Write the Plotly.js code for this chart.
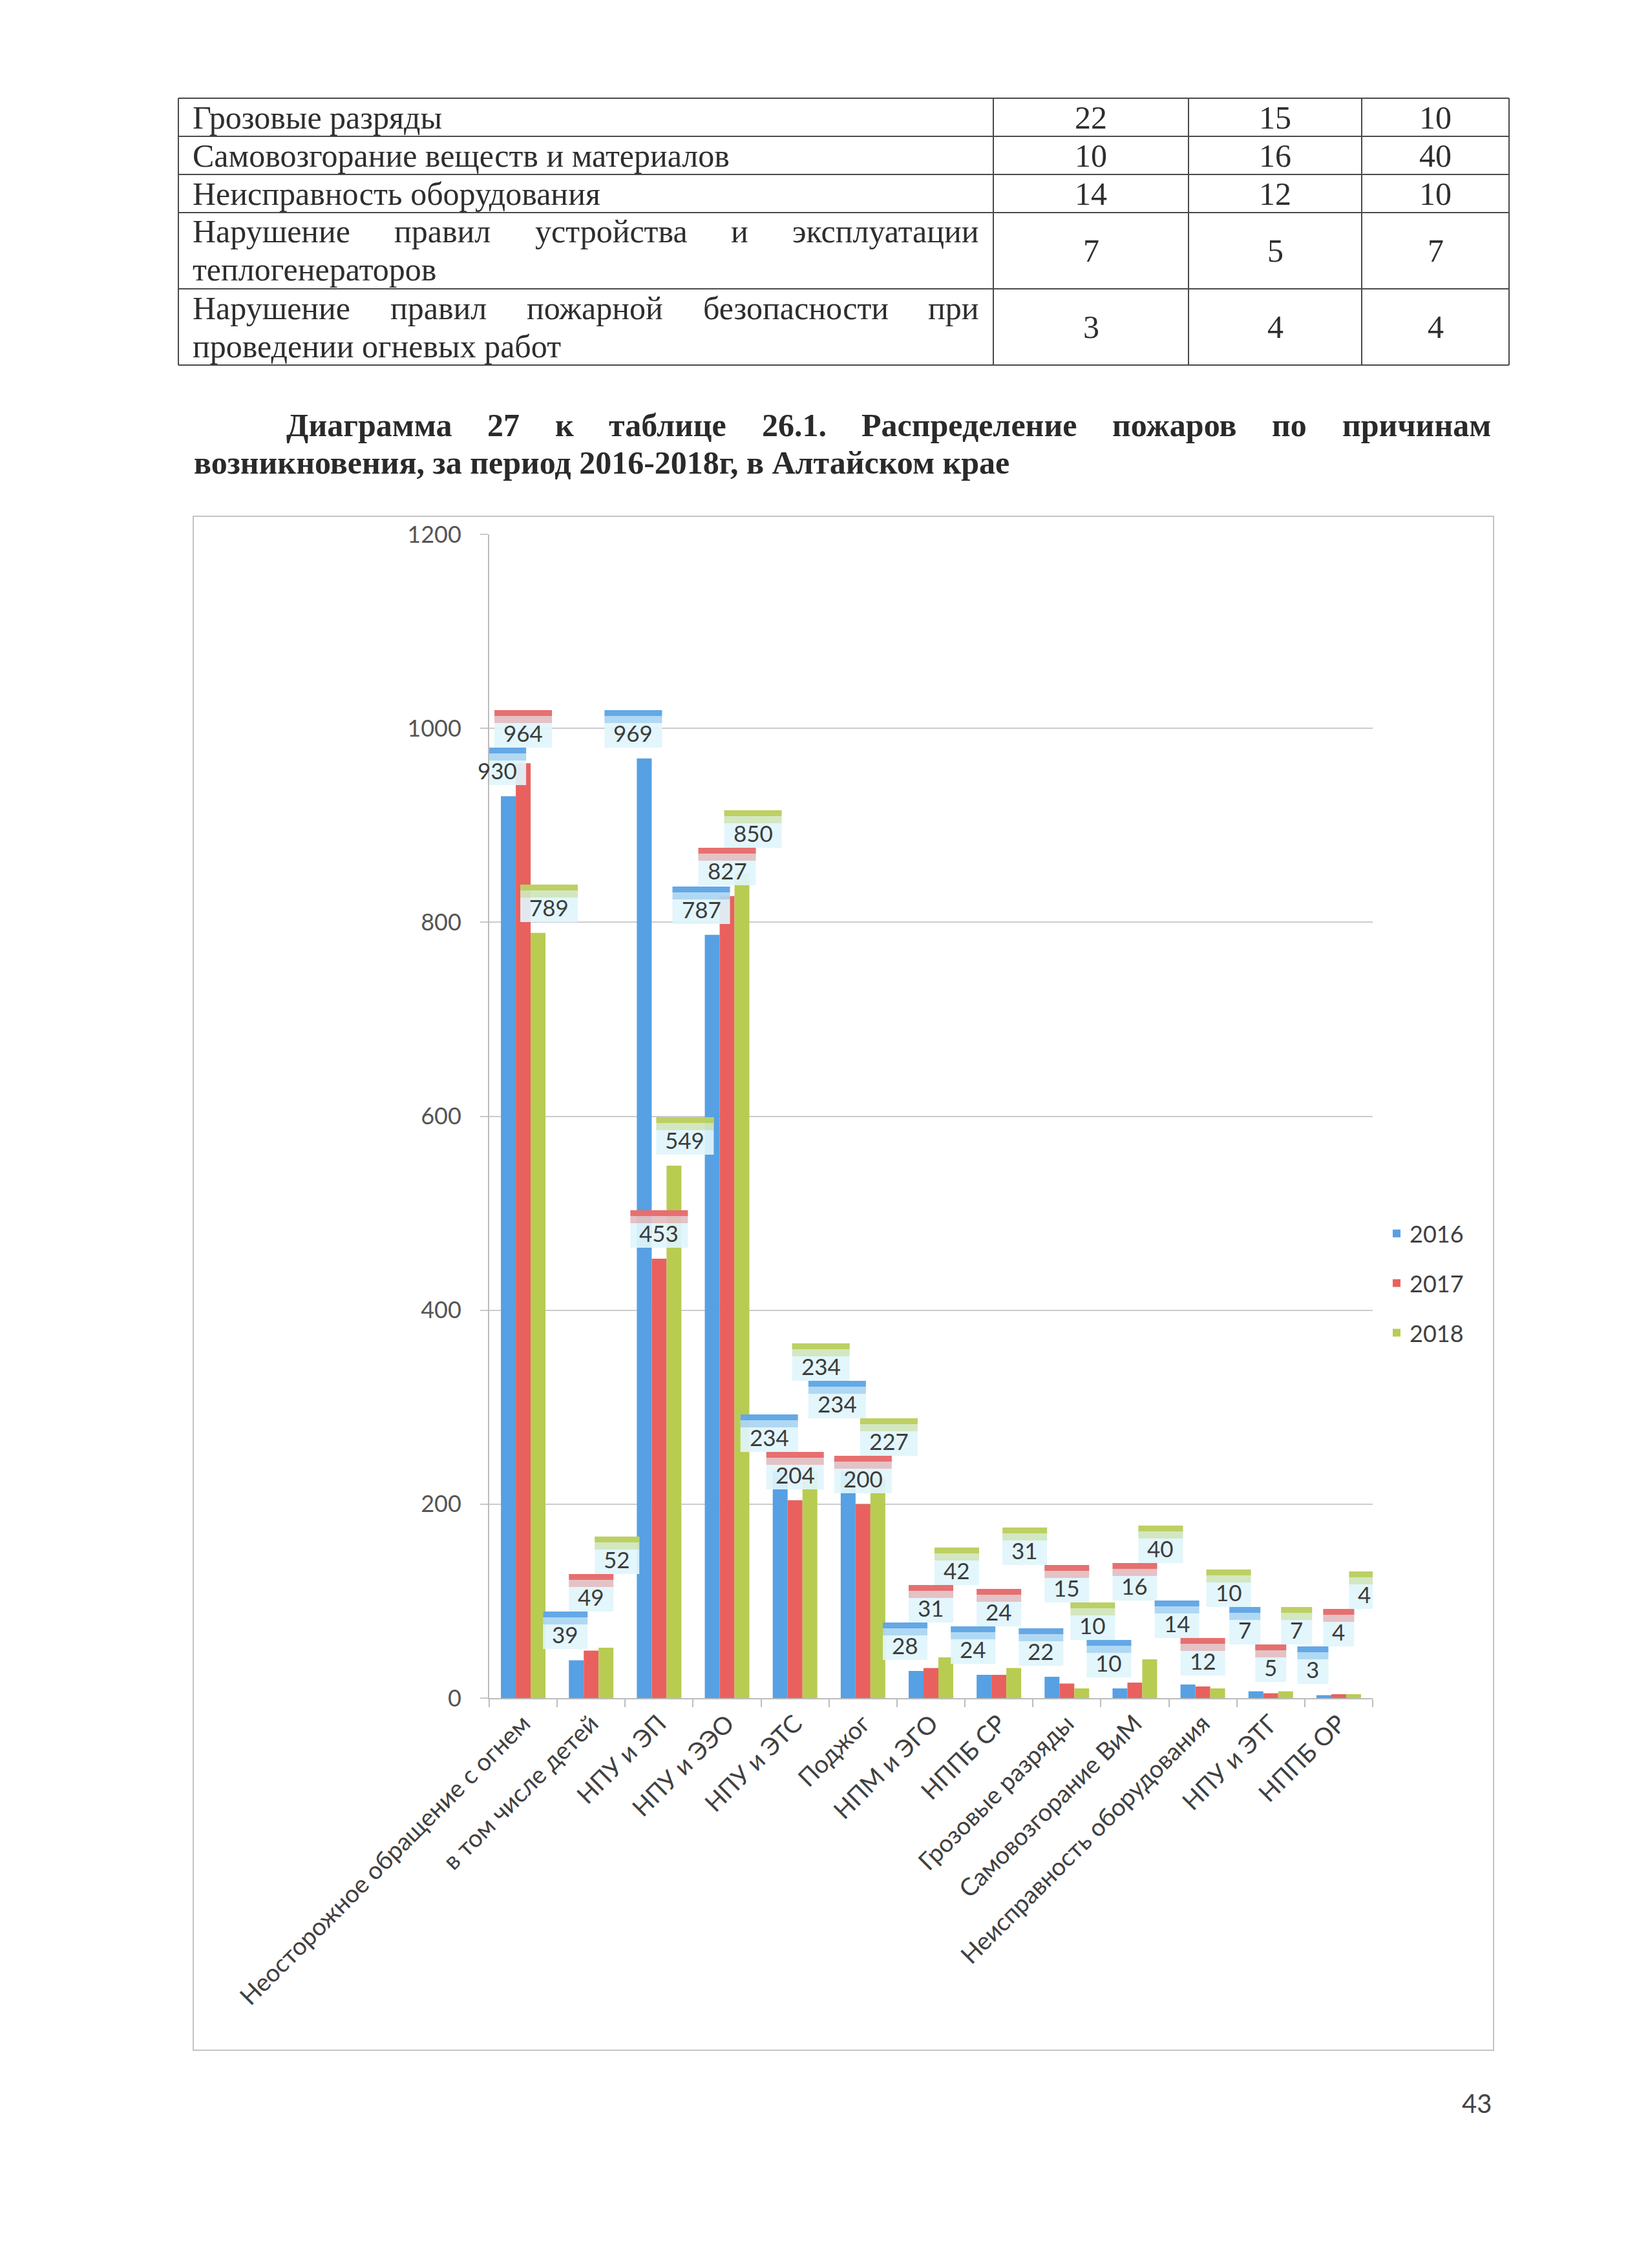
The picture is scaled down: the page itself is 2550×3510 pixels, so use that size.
<!DOCTYPE html>
<html>
<head>
<meta charset="utf-8">
<script src="https://cdn.plot.ly/plotly-3.0.1.min.js"></script>
<style>html,body{margin:0;padding:0;background:#fff;}</style>
</head>
<body>
<div id="chart" style="width:2550px;height:3510px"></div>
<script>
// ---------------- DATA ----------------
const categories = [
  'Неосторожное обращение с огнем',
  'в том числе детей',
  'НПУ и ЭП',
  'НПУ и ЭЭО',
  'НПУ и ЭТС',
  'Поджог',
  'НПМ и ЭГО',
  'НППБ СР',
  'Грозовые разряды',
  'Самовозгорание ВиМ',
  'Неисправность оборудования',
  'НПУ и ЭТГ',
  'НППБ ОР'
];
const values2016 = [930, 39, 969, 787, 234, 234, 28, 24, 22, 10, 14, 7, 3];
const values2017 = [964, 49, 453, 827, 204, 200, 31, 24, 15, 16, 12, 5, 4];
const values2018 = [789, 52, 549, 850, 234, 227, 42, 31, 10, 40, 10, 7, 4];
const seriesNames = ['2016', '2017', '2018'];
const yTicks = [0, 200, 400, 600, 800, 1000, 1200];

const tableCauses = [
  'Грозовые разряды',
  'Самовозгорание веществ и материалов',
  'Неисправность оборудования',
  'Нарушение правил устройства и эксплуатации теплогенераторов',
  'Нарушение правил пожарной безопасности при проведении огневых работ'
];
const table2016 = [22, 10, 14, 7, 3];
const table2017 = [15, 16, 12, 5, 4];
const table2018 = [10, 40, 10, 7, 4];

const titleLine1 = 'Диаграмма 27 к таблице 26.1. Распределение пожаров по причинам';
const titleLine2 = 'возникновения, за период 2016-2018г, в Алтайском крае';
const pageNumber = '43';

// ---------------- LAYOUT CONSTANTS ----------------
const W = 2550, H = 3510;
const X0 = 757, X1 = 2124, Y0 = 827, Y1 = 2628;   // plot area (px)
const YMAX = 1200;
const colors = ['#56a0e3', '#e8615f', '#b8cc52'];
const px = v => v / W;
const py = v => 1 - v / H;

const cvs = document.createElement('canvas');
const ctx = cvs.getContext('2d');
function measure(text, font) { ctx.font = font; return ctx.measureText(text).width; }

const shapes = [];
const annotations = [];

function paperText(text, x, y, xanchor, font) {
  annotations.push({xref: 'paper', yref: 'paper', x: px(x), y: py(y), xanchor: xanchor, yanchor: 'middle',
    text: text, showarrow: false, borderpad: 0, font: font});
}
function placeLine(words, fontObj, cssFont, xL, xR, y, justify) {
  if (!justify) { paperText(words.join(' '), xL, y, 'left', fontObj); return; }
  const ws = words.map(w => measure(w, cssFont));
  const total = ws.reduce((a, b) => a + b, 0);
  const gap = words.length > 1 ? (xR - xL - total) / (words.length - 1) : 0;
  let x = xL;
  words.forEach((w, k) => { paperText(w, x, y, 'left', fontObj); x += ws[k] + gap; });
}
function wrapWords(text, cssFont, cap) {
  const words = text.split(' ');
  const lines = [];
  let cur = [];
  words.forEach(w => {
    const t = cur.concat([w]).join(' ');
    if (cur.length && measure(t, cssFont) > cap) { lines.push(cur); cur = [w]; }
    else cur.push(w);
  });
  if (cur.length) lines.push(cur);
  return lines;
}

// ---------------- TABLE ----------------
const tFontSize = 50;
const tCss = tFontSize + 'px "Liberation Serif"';
const tFont = {family: 'Liberation Serif', size: tFontSize, color: '#2e2e2e'};
const colLines = [276, 1537, 1839, 2107, 2335];
const lineH = 59;
const textL = 297, textR = 1514;
let rowTop = 152;
const rowLines = [rowTop];
tableCauses.forEach((cause, r) => {
  const lines = wrapWords(cause, tCss, 1180);
  const h = lineH * lines.length;
  const mid = rowTop + h / 2;
  lines.forEach((ln, k) => {
    const y = mid + (k - (lines.length - 1) / 2) * lineH;
    placeLine(ln, tFont, tCss, textL, textR, y, k < lines.length - 1);
  });
  [table2016[r], table2017[r], table2018[r]].forEach((v, c) => {
    paperText(String(v), (colLines[c + 1] + colLines[c + 2]) / 2, mid, 'center', tFont);
  });
  rowTop += h;
  rowLines.push(rowTop);
});
rowLines.forEach(y => shapes.push({type: 'line', xref: 'paper', yref: 'paper',
  x0: px(colLines[0]), x1: px(colLines[colLines.length - 1]), y0: py(y), y1: py(y),
  line: {color: '#4a4a4a', width: 2}}));
colLines.forEach(x => shapes.push({type: 'line', xref: 'paper', yref: 'paper',
  x0: px(x), x1: px(x), y0: py(rowLines[0]), y1: py(rowLines[rowLines.length - 1]),
  line: {color: '#4a4a4a', width: 2}}));

// ---------------- TITLE ----------------
const ttCss = 'bold 50px "Liberation Serif"';
const ttFont = {family: 'Liberation Serif', size: 50, color: '#2a2a2a', weight: 'bold'};
placeLine(titleLine1.split(' '), ttFont, ttCss, 442, 2306, 658, true);
placeLine(titleLine2.split(' '), ttFont, ttCss, 299, 2306, 716, false);

// ---------------- CHART FRAME & PAGE NUMBER ----------------
shapes.push({type: 'rect', xref: 'paper', yref: 'paper', x0: px(299), x1: px(2311), y0: py(3173), y1: py(799),
  line: {color: '#c4c4c4', width: 2}, fillcolor: 'rgba(0,0,0,0)', layer: 'below'});
paperText(pageNumber, 2285, 3255, 'center', {family: 'Lato', size: 40, color: '#444'});

// ---------------- DATA LABELS (callout boxes) ----------------
const seriesVals = [values2016, values2017, values2018];
const pxPerUnit = (Y1 - Y0) / YMAX;
const catW = (X1 - X0) / categories.length;
const labelShift = [-40, 0, 40];
const lblCss = '35px Lato';
const boxH = 58;
const labels = [];
seriesVals.forEach((vals, s) => vals.forEach((v, i) => {
  const txt = String(v);
  const w = Math.round(measure(txt, lblCss)) + 28;
  labels.push({s: s, i: i, v: v, txt: txt, w: w, cx: (i + 0.5) * catW + labelShift[s], c: Math.round(v * pxPerUnit) + 46});
}));
labels.sort((a, b) => a.c - b.c);
const placed = [];
labels.forEach(L => {
  let guard = 0;
  let moved = true;
  while (moved && guard < 200) {
    moved = false; guard++;
    for (const P of placed) {
      if (Math.abs(P.cx - L.cx) < (P.w + L.w) / 2 - 2 && Math.abs(P.c - L.c) < boxH - 0.5) {
        L.c = P.c + boxH; moved = true;
      }
    }
  }
  placed.push(L);
});
placed.forEach(L => {
  const ys = L.c - L.v * pxPerUnit;
  const sx = labelShift[L.s];
  shapes.push({type: 'rect', xref: 'x', yref: 'y', xsizemode: 'pixel', ysizemode: 'pixel',
    xanchor: L.i, yanchor: L.v, x0: sx - L.w / 2, x1: sx + L.w / 2, y0: ys - boxH / 2, y1: ys + boxH / 2,
    fillcolor: 'rgba(224,245,252,0.92)', line: {width: 0}});
  shapes.push({type: 'rect', xref: 'x', yref: 'y', xsizemode: 'pixel', ysizemode: 'pixel',
    xanchor: L.i, yanchor: L.v, x0: sx - L.w / 2, x1: sx + L.w / 2, y0: ys + boxH / 2 - 20, y1: ys + boxH / 2 - 9,
    fillcolor: colors[L.s], opacity: 0.35, line: {width: 0}});
  shapes.push({type: 'rect', xref: 'x', yref: 'y', xsizemode: 'pixel', ysizemode: 'pixel',
    xanchor: L.i, yanchor: L.v, x0: sx - L.w / 2, x1: sx + L.w / 2, y0: ys + boxH / 2 - 9, y1: ys + boxH / 2,
    fillcolor: colors[L.s], opacity: 0.9, line: {width: 0}});
  annotations.push({xref: 'x', yref: 'y', x: L.i, y: L.v, xshift: sx, yshift: ys - 6,
    xanchor: 'center', yanchor: 'middle', text: L.txt, showarrow: false,
    font: {family: 'Lato', size: 35, color: '#3c3c3c'}});
});

// ---------------- TRACES ----------------
const xIdx = categories.map((_, i) => i);
const traces = seriesVals.map((vals, s) => ({
  type: 'bar', x: xIdx, y: vals, name: seriesNames[s], legendgroup: 'g' + s,
  marker: {color: colors[s], line: {width: 0}}, hoverinfo: 'skip'
}));

const layout = {
  width: W, height: H,
  margin: {l: 0, r: 0, t: 0, b: 0},
  paper_bgcolor: '#ffffff', plot_bgcolor: 'rgba(0,0,0,0)',
  barmode: 'group', bargap: 0.344, bargroupgap: 0,
  font: {family: 'Lato', color: '#404040'},
  xaxis: {
    domain: [px(X0), px(X1)], range: [-0.5, categories.length - 0.5],
    tickmode: 'array', tickvals: xIdx, ticktext: categories, tickangle: -45,
    tickfont: {family: 'Lato', size: 38, color: '#404040'},
    ticks: '', showgrid: false, zeroline: false,
    showline: true, linecolor: '#bdbdbd', linewidth: 2,
    minor: {ticks: 'outside', ticklen: 12, tickwidth: 2, tickcolor: '#bdbdbd',
      tickmode: 'linear', tick0: -0.5, dtick: 1, showgrid: false},
    fixedrange: true
  },
  yaxis: {
    domain: [py(Y1), py(Y0)], range: [0, YMAX],
    tickmode: 'array', tickvals: yTicks,
    ticks: 'outside', ticklen: 12, tickwidth: 2, tickcolor: '#c8c8c8',
    showgrid: true, gridcolor: '#cccccc', gridwidth: 2,
    showline: true, linecolor: '#bdbdbd', linewidth: 2, zeroline: false,
    tickfont: {family: 'Lato', size: 36, color: '#555555'},
    ticklabelstandoff: 22, fixedrange: true
  },
  showlegend: true,
  legend: {x: px(2141), y: py(1879), xanchor: 'left', yanchor: 'top',
    font: {family: 'Lato', size: 36, color: '#404040'}, tracegroupgap: 27,
    bgcolor: 'rgba(0,0,0,0)', traceorder: 'grouped'},
  shapes: shapes,
  annotations: annotations
};

Plotly.newPlot('chart', traces, layout, {displayModeBar: false, staticPlot: true});
</script>
</body>
</html>
